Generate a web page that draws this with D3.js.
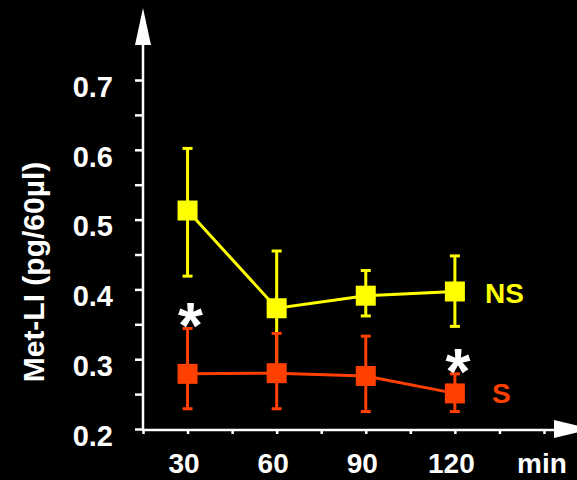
<!DOCTYPE html>
<html>
<head>
<meta charset="utf-8">
<script src="https://cdn.jsdelivr.net/npm/d3@7"></script>
<style>
  body { margin: 0; background: #000; }
  svg { display: block; }
  text { font-family: "Liberation Sans", Arial, sans-serif; font-weight: bold; }
</style>
</head>
<body>
<div id="chart"></div>
<script>
// data
var minutes = [30, 60, 90, 120];
var nsMean = [0.513, 0.373, 0.391, 0.397];
var nsUpper = [0.602, 0.455, 0.427, 0.448];
var nsLower = [0.419, 0.291, 0.362, 0.347];
var sMean = [0.279, 0.280, 0.276, 0.251];
var sUpper = [0.344, 0.337, 0.333, 0.279];
var sLower = [0.229, 0.229, 0.225, 0.225];
var yTicks = [0.2, 0.3, 0.4, 0.5, 0.6, 0.7];
var xTicks = [30, 60, 90, 120];
var starAt = [[30, 0.344], [120, 0.279]];

var w = 577, h = 480;
var yellow = "#ffff00", red = "#ff4000";

var svg = d3.select("#chart").append("svg")
    .attr("width", w).attr("height", h);

var x = d3.scaleLinear().domain([15, 150]).range([143, 544]);
var y = d3.scaleLinear().domain([0.2, 0.7]).range([429, 80]);

// y axis
var yAxis = d3.axisLeft(y)
    .tickValues(d3.range(0, 11).map(function(i) { return 0.2 + i * 0.05; }))
    .tickSize(8)
    .tickFormat(function(d) {
        var r = Math.round(d * 100) / 100;
        return yTicks.some(function(t) { return Math.abs(t - r) < 1e-6; }) ? r.toFixed(1) : "";
    });
var gy = svg.append("g").attr("transform", "translate(143,0)").call(yAxis);
gy.select(".domain").remove();
gy.selectAll(".tick line").attr("stroke", "#fff").attr("stroke-width", 2.5);
gy.selectAll(".tick text")
    .attr("fill", "#fff").attr("font-size", 29).attr("x", -30).attr("dy", "0.56em");

// x axis
var xAxis = d3.axisBottom(x)
    .tickValues(d3.range(15, 151, 15))
    .tickSize(4)
    .tickFormat(function(d) { return xTicks.indexOf(d) >= 0 ? d : ""; });
var gx = svg.append("g").attr("transform", "translate(0,430)").call(xAxis);
gx.select(".domain").remove();
gx.selectAll(".tick line").attr("stroke", "#fff").attr("stroke-width", 2.5);
gx.selectAll(".tick text")
    .attr("fill", "#fff").attr("font-size", 28).attr("y", 0).attr("dy", 43).attr("dx", -4);

// axis lines with arrows
svg.append("line").attr("x1", 143).attr("x2", 143).attr("y1", 431).attr("y2", 44)
    .attr("stroke", "#fff").attr("stroke-width", 2.5);
svg.append("path").attr("d", "M135,45L151,45L143,8Z").attr("fill", "#fff");
svg.append("line").attr("x1", 142).attr("x2", 556).attr("y1", 430).attr("y2", 430)
    .attr("stroke", "#fff").attr("stroke-width", 2.5);
svg.append("path").attr("d", "M554,420L554,438L592,429Z").attr("fill", "#fff");

svg.append("text").attr("x", 517).attr("y", 473).attr("fill", "#fff")
    .attr("font-size", 28).text("min");

svg.append("text")
    .attr("transform", "translate(44,272) rotate(-90)")
    .attr("text-anchor", "middle").attr("fill", "#fff").attr("font-size", 30)
    .text("Met-LI (pg/60\u00b5l)");

function drawSeries(mean, upper, lower, color) {
    var g = svg.append("g");
    var line = d3.line()
        .x(function(d, i) { return x(minutes[i]); })
        .y(function(d) { return y(d); });
    g.append("path").datum(mean).attr("d", line)
        .attr("fill", "none").attr("stroke", color).attr("stroke-width", 3);
    minutes.forEach(function(m, i) {
        var cx = x(m);
        g.append("line").attr("x1", cx).attr("x2", cx)
            .attr("y1", y(upper[i])).attr("y2", y(lower[i]))
            .attr("stroke", color).attr("stroke-width", 3);
        [upper[i], lower[i]].forEach(function(v) {
            g.append("line").attr("x1", cx - 5).attr("x2", cx + 5)
                .attr("y1", y(v)).attr("y2", y(v))
                .attr("stroke", color).attr("stroke-width", 3);
        });
        g.append("rect").attr("x", cx - 10).attr("y", y(mean[i]) - 10)
            .attr("width", 20).attr("height", 20).attr("fill", color);
    });
}
drawSeries(nsMean, nsUpper, nsLower, yellow);
drawSeries(sMean, sUpper, sLower, red);

svg.append("text").attr("x", 485).attr("y", 303).attr("fill", yellow)
    .attr("font-size", 28).text("NS");
svg.append("text").attr("x", 492).attr("y", 403).attr("fill", red)
    .attr("font-size", 28).text("S");

svg.selectAll(".star").data(starAt).enter().append("text")
    .attr("class", "star")
    .attr("x", function(d) { return x(d[0]) + 3; })
    .attr("y", function(d) { return y(d[1]) + 20; })
    .attr("text-anchor", "middle").attr("fill", "#fff").attr("font-size", 64)
    .text("*");
</script>
</body>
</html>
